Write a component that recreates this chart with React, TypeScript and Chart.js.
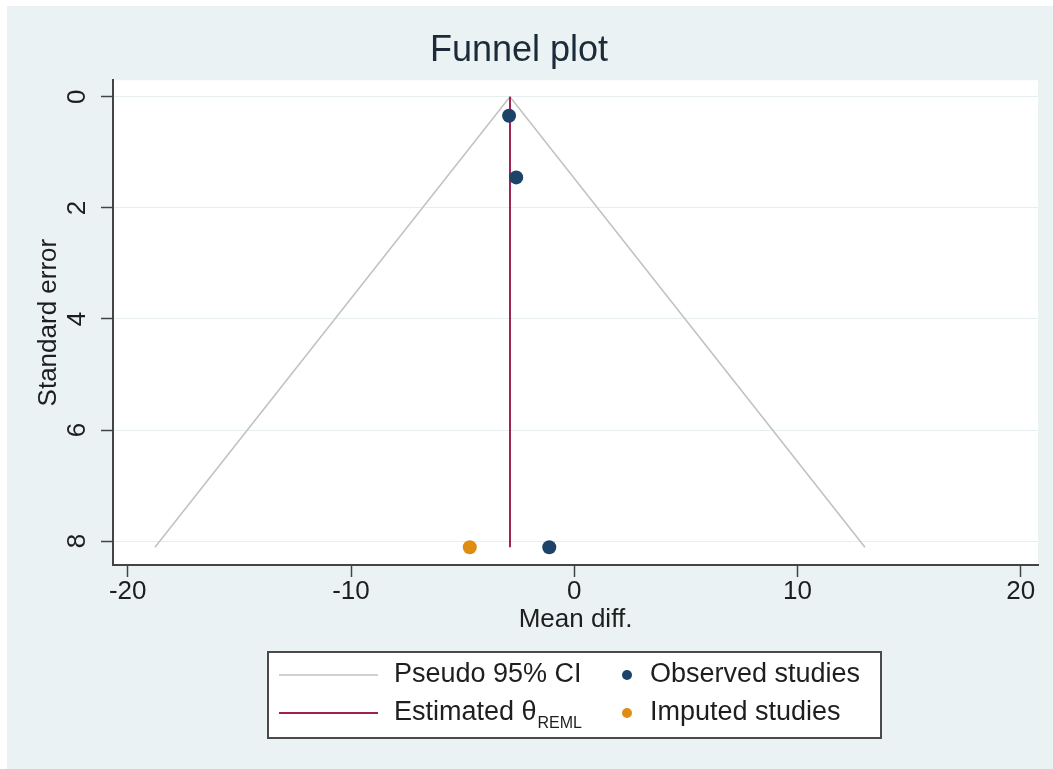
import React, { useEffect, useRef } from 'react';
import { Chart, registerables } from 'chart.js';

Chart.register(...registerables);

const FONT = '"Liberation Sans", Arial, Helvetica, sans-serif';

// ---- axis setup ----
const xTicks = [-20, -10, 0, 10, 20];
const yTicks = [0, 2, 4, 6, 8];
const xRange = [-20.66, 20.77];
const yRange = [-0.3, 8.43];

// ---- data ----
const thetaREML = -2.88;
const funnelX = [-18.78, -2.88, 13.02];
const funnelY = [8.11, 0, 8.11];
const thetaLineY = [0, 8.11];
const observedX = [-2.92, -2.6, -1.12];
const observedY = [0.34, 1.45, 8.11];
const imputedX = [-4.68];
const imputedY = [8.11];

// ---- labels ----
const titleText = 'Funnel plot';
const xTitle = 'Mean diff.';
const yTitle = 'Standard error';
const funnelLabel = 'Pseudo 95% CI';
const thetaLabel = 'Estimated θ';
const thetaSub = 'REML';
const observedLabel = 'Observed studies';
const imputedLabel = 'Imputed studies';

const COLORS = {
  outer: '#eaf2f3',
  funnel: '#c2c2c2',
  theta: '#a0214f',
  observed: '#1d4369',
  imputed: '#de8c12',
  axis: '#444444',
  grid: '#e6eef0',
  text: '#1e1e1e',
  title: '#1c2b3a',
};

const zip = (xs: number[], ys: number[]) => xs.map((x, i) => ({ x, y: ys[i] }));

const bgPlugin = {
  id: 'stataBg',
  beforeDraw(chart: any) {
    const { ctx, width, height, chartArea } = chart;
    ctx.save();
    ctx.fillStyle = '#ffffff';
    ctx.fillRect(0, 0, width, height);
    ctx.fillStyle = COLORS.outer;
    ctx.fillRect(7, 6, width - 7, height - 6);
    ctx.fillStyle = '#ffffff';
    ctx.fillRect(chartArea.left, chartArea.top, chartArea.right - chartArea.left, chartArea.bottom - chartArea.top);
    ctx.restore();
  },
};

const legendPlugin = {
  id: 'stataLegend',
  afterDraw(chart: any) {
    const { ctx, chartArea } = chart;
    const cx = (chartArea.left + chartArea.right) / 2;
    const boxW = 613;
    const boxH = 86;
    const left = cx - boxW / 2 - 1;
    const top = chartArea.bottom + 87;
    ctx.save();
    ctx.fillStyle = '#ffffff';
    ctx.fillRect(left, top, boxW, boxH);
    ctx.strokeStyle = '#4a4a4a';
    ctx.lineWidth = 2;
    ctx.strokeRect(left, top, boxW, boxH);

    const rows = [top + 23, top + 61];
    chart.data.datasets.forEach((ds: any) => {
      const col = ds.legendCol;
      const y = rows[ds.legendRow];
      if (ds.legendKind === 'line') {
        ctx.strokeStyle = ds.borderColor;
        ctx.lineWidth = ds.borderWidth;
        ctx.beginPath();
        ctx.moveTo(left + 11, y);
        ctx.lineTo(left + 110, y);
        ctx.stroke();
      } else {
        ctx.fillStyle = ds.backgroundColor;
        ctx.beginPath();
        ctx.arc(left + 359, y, 5, 0, Math.PI * 2);
        ctx.fill();
      }
      const tx = col === 0 ? left + 126 : left + 382;
      ctx.fillStyle = COLORS.text;
      ctx.font = `27px ${FONT}`;
      ctx.textBaseline = 'middle';
      ctx.textAlign = 'left';
      ctx.fillText(ds.label, tx, y);
      if (ds.legendSub) {
        const w = ctx.measureText(ds.label).width;
        ctx.font = `16px ${FONT}`;
        ctx.textBaseline = 'alphabetic';
        ctx.fillText(ds.legendSub, tx + w + 1, y + 15);
      }
    });
    ctx.restore();
  },
};

export default function App() {
  const ref = useRef<HTMLCanvasElement | null>(null);

  useEffect(() => {
    document.body.style.margin = '0';
    const canvas = ref.current;
    if (!canvas) return;

    const tickFont = { family: FONT, size: 26 };
    const titleFont = { family: FONT, size: 26 };

    const chart = new Chart(canvas, {
      type: 'scatter',
      data: {
        datasets: [
          {
            label: funnelLabel,
            data: zip(funnelX, funnelY),
            showLine: true,
            borderColor: COLORS.funnel,
            borderWidth: 1.6,
            pointRadius: 0,
            fill: false,
            tension: 0,
            order: 4,
            legendKind: 'line',
            legendCol: 0,
            legendRow: 0,
          } as any,
          {
            label: thetaLabel,
            data: zip([thetaREML, thetaREML], thetaLineY),
            showLine: true,
            borderColor: COLORS.theta,
            borderWidth: 2,
            pointRadius: 0,
            fill: false,
            order: 3,
            legendKind: 'line',
            legendSub: thetaSub,
            legendCol: 0,
            legendRow: 1,
          } as any,
          {
            label: observedLabel,
            data: zip(observedX, observedY),
            backgroundColor: COLORS.observed,
            pointBackgroundColor: COLORS.observed,
            pointBorderWidth: 0,
            pointRadius: 7,
            order: 2,
            legendKind: 'point',
            legendCol: 1,
            legendRow: 0,
          } as any,
          {
            label: imputedLabel,
            data: zip(imputedX, imputedY),
            backgroundColor: COLORS.imputed,
            pointBackgroundColor: COLORS.imputed,
            pointBorderWidth: 0,
            pointRadius: 7,
            order: 1,
            legendKind: 'point',
            legendCol: 1,
            legendRow: 1,
          } as any,
        ],
      },
      options: {
        responsive: false,
        animation: false,
        events: [],
        layout: { padding: { left: 0, right: 15, top: 0, bottom: 134 } },
        plugins: {
          legend: { display: false },
          tooltip: { enabled: false },
          title: {
            display: true,
            text: titleText,
            color: COLORS.title,
            font: { family: FONT, size: 36, weight: 'normal' },
            padding: { top: 29, bottom: 8 },
          },
        },
        scales: {
          x: {
            type: 'linear',
            min: xRange[0],
            max: xRange[1],
            afterBuildTicks: (s: any) => {
              s.ticks = xTicks.map((v) => ({ value: v }));
            },
            afterFit: (s: any) => {
              s.height = 70;
            },
            grid: {
              drawOnChartArea: false,
              drawTicks: true,
              tickLength: 12,
              tickColor: COLORS.axis,
              tickWidth: 1.5,
            },
            border: { display: true, color: COLORS.axis, width: 2 },
            ticks: {
              font: tickFont,
              color: COLORS.text,
              padding: -1,
              maxRotation: 0,
              autoSkip: false,
            },
            title: {
              display: true,
              text: xTitle,
              color: COLORS.text,
              font: titleFont,
              padding: { top: 0, bottom: 0 },
            },
          },
          y: {
            type: 'linear',
            reverse: true,
            min: yRange[0],
            max: yRange[1],
            afterBuildTicks: (s: any) => {
              s.ticks = yTicks.map((v) => ({ value: v }));
            },
            afterFit: (s: any) => {
              s.width = 113;
            },
            grid: {
              color: COLORS.grid,
              lineWidth: 1,
              drawTicks: true,
              tickLength: 12,
              tickColor: COLORS.axis,
              tickWidth: 1.5,
            },
            border: { display: true, color: COLORS.axis, width: 2 },
            ticks: {
              font: tickFont,
              color: COLORS.text,
              minRotation: 90,
              maxRotation: 90,
              crossAlign: 'center',
              padding: 16,
              autoSkip: false,
            },
            title: {
              display: true,
              text: yTitle,
              color: COLORS.text,
              font: titleFont,
              padding: { top: 33, bottom: 0 },
            },
          },
        },
      } as any,
      plugins: [bgPlugin, legendPlugin],
    });

    return () => chart.destroy();
  }, []);

  return (
    <div style={{ width: 1053, height: 769 }}>
      <canvas ref={ref} width={1053} height={769} style={{ display: 'block' }} />
    </div>
  );
}
